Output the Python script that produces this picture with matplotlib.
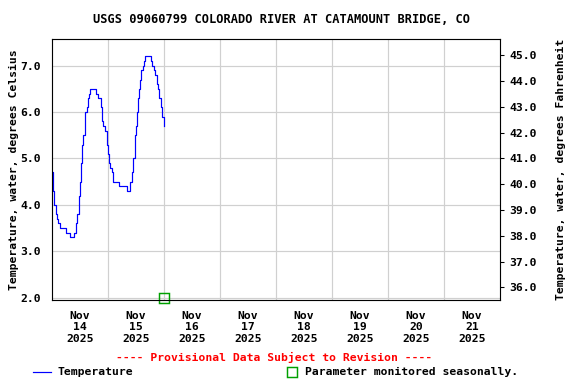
import matplotlib.pyplot as plt
from matplotlib.ticker import FixedLocator

# hours since Nov 14 2025 00:00 and water temperature (deg C)
hours = [0.0, 0.7, 1.1, 1.7, 2.1, 2.9, 3.6, 6.0, 7.9, 9.6, 10.4, 11.0, 11.6,
         12.1, 12.7, 13.0, 13.6, 14.1, 14.4, 15.0, 15.6, 16.1, 16.6, 19.0,
         19.9, 20.9, 21.6, 22.1, 22.9, 23.6, 24.0, 24.6, 25.1, 25.7, 26.4,
         28.6, 32.1, 33.6, 34.4, 35.0, 35.6, 36.1, 36.4, 36.9, 37.4, 37.9,
         38.4, 39.0, 39.6, 39.9, 42.6, 43.1, 43.6, 44.3, 45.0, 45.6, 46.1,
         46.7, 47.4, 47.9, 48.0]
temp_c = [4.7, 4.3, 4.0, 3.8, 3.7, 3.6, 3.5, 3.4, 3.3, 3.4, 3.6, 3.8, 4.2,
          4.5, 4.9, 5.3, 5.5, 5.7, 6.0, 6.1, 6.3, 6.4, 6.5, 6.4,
          6.3, 6.1, 5.8, 5.7, 5.6, 5.3, 5.1, 4.9, 4.8, 4.7, 4.5,
          4.4, 4.3, 4.5, 4.7, 5.0, 5.5, 5.7, 6.0, 6.3, 6.5, 6.7,
          6.9, 7.0, 7.1, 7.2, 7.1, 7.0, 6.9, 6.8, 6.6, 6.5, 6.3,
          6.1, 5.9, 5.7, 5.7]

day_labels = ["Nov\n14\n2025", "Nov\n15\n2025", "Nov\n16\n2025", "Nov\n17\n2025",
              "Nov\n18\n2025", "Nov\n19\n2025", "Nov\n20\n2025", "Nov\n21\n2025"]
c_ticks = [2.0, 3.0, 4.0, 5.0, 6.0, 7.0]
f_ticks = [36.0, 37.0, 38.0, 39.0, 40.0, 41.0, 42.0, 43.0, 44.0, 45.0]
seasonal_marker = (48.0, 2.0)

plt.rcParams['font.family'] = 'DejaVu Sans Mono'
plt.rcParams['font.weight'] = 'bold'
plt.rcParams['axes.labelweight'] = 'bold'
plt.rcParams['font.size'] = 8.5

fig = plt.figure(figsize=(6, 4), dpi=96)
ax = fig.add_axes([0.0898, 0.2188, 0.7786, 0.6796])

ax.plot(hours, temp_c, color='blue', lw=0.9, drawstyle='steps-post')
ax.plot([seasonal_marker[0]], [seasonal_marker[1]], 's', ms=7, mfc='none',
        mec='#00a000', mew=1.1, clip_on=False, zorder=5)

ylo, yhi = 1.95, 7.575
ax.set_xlim(0, 192)
ax.set_ylim(ylo, yhi)
ax.set_yticks(c_ticks)
ax.set_yticklabels(['%.1f' % v for v in c_ticks])
ax.xaxis.set_major_locator(FixedLocator([12 + 24 * i for i in range(8)]))
ax.xaxis.set_minor_locator(FixedLocator([24 * i for i in range(1, 8)]))
ax.set_xticklabels(day_labels)
ax.tick_params(axis='x', which='both', length=0, pad=8)
ax.tick_params(axis='y', length=0, pad=8)
ax.grid(True, which='minor', axis='x', color='#d0d0d0', lw=0.9)
ax.grid(True, which='major', axis='y', color='#d0d0d0', lw=0.9)
ax.set_axisbelow(True)
ax.set_ylabel('Temperature, water, degrees Celsius', labelpad=1)

ax2 = ax.twinx()
ax2.set_ylim(ylo * 1.8 + 32, yhi * 1.8 + 32)
ax2.set_yticks(f_ticks)
ax2.set_yticklabels(['%.1f' % v for v in f_ticks])
ax2.tick_params(axis='y', length=3, pad=4)
ax2.set_ylabel('Temperature, water, degrees Fahrenheit', labelpad=14)

fig.suptitle('USGS 09060799 COLORADO RIVER AT CATAMOUNT BRIDGE, CO',
             x=0.488, y=0.965, fontsize=9, fontweight='bold')

fig.text(0.476, 0.068, '---- Provisional Data Subject to Revision ----',
         color='red', ha='center', va='center')
fig.lines.append(plt.Line2D([0.057, 0.089], [0.031, 0.031], color='blue',
                            lw=0.9, transform=fig.transFigure))
fig.text(0.1, 0.031, 'Temperature', va='center')
fig.lines.append(plt.Line2D([0.507], [0.031], marker='s', ms=7, mfc='none',
                            mec='#00a000', mew=1.1, transform=fig.transFigure))
fig.text(0.53, 0.031, 'Parameter monitored seasonally.', va='center')

fig.savefig('out.png', dpi=96)
